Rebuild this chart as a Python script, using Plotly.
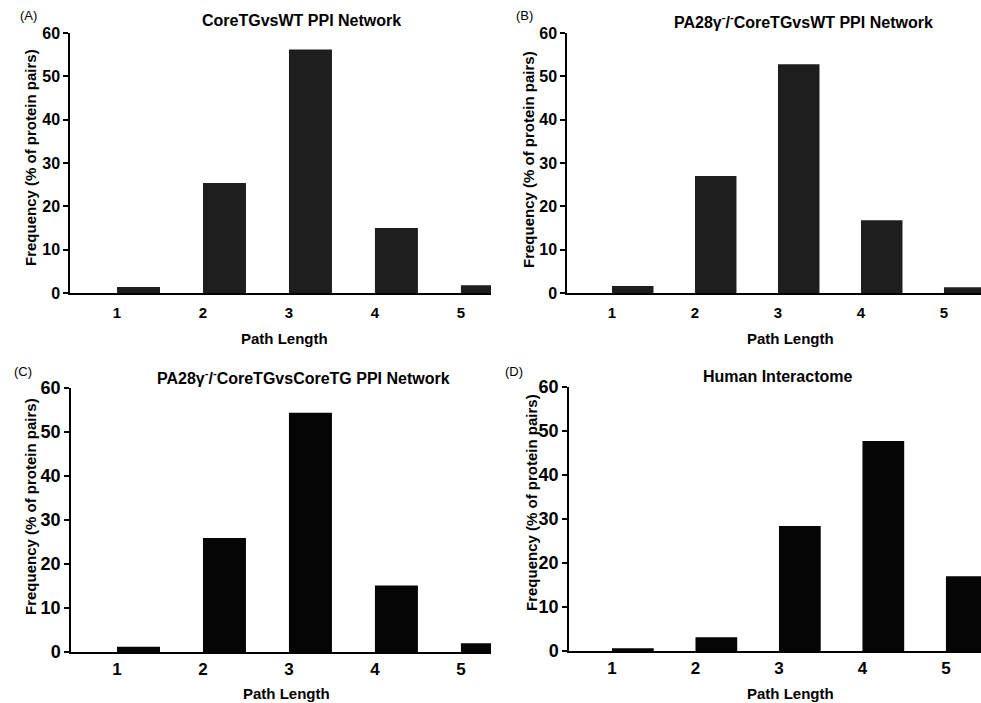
import plotly.graph_objects as go

W, H = 981, 703

path_lengths = [1, 2, 3, 4, 5]
freq_a = [1.4, 25.4, 56.2, 15.0, 1.8]
freq_b = [1.6, 27.0, 52.8, 16.8, 1.3]
freq_c = [1.2, 25.9, 54.4, 15.1, 2.0]
freq_d = [0.6, 3.1, 28.4, 47.7, 17.0]
y_ticks = [0, 10, 20, 30, 40, 50, 60]
titles = [
    "CoreTGvsWT PPI Network",
    "PA28γ<sup>-</sup>/<sup>-</sup>CoreTGvsWT PPI Network",
    "PA28γ<sup>-</sup>/<sup>-</sup>CoreTGvsCoreTG PPI Network",
    "Human Interactome",
]
panel_labels = ["(A)", "(B)", "(C)", "(D)"]
series = [freq_a, freq_b, freq_c, freq_d]

# panel geometry in pixels
panels = [
    dict(x0=70, x1=491, yt=33, yb=293, xr=[0.453, 5.35], tx=301, ty=20, lx=28, ly=16,
         color="#1e1e1e", tick=15, xlab_y=338, ytit_x=31, ytit_y=158, xtx=284, stand=5),
    dict(x0=567, x1=981, yt=33, yb=293, xr=[0.458, 5.446], tx=803, ty=21, lx=524, ly=16,
         color="#1e1e1e", tick=15, xlab_y=338, ytit_x=528, ytit_y=160, xtx=790, stand=5),
    dict(x0=71, x1=491, yt=388, yb=652, xr=[0.465, 5.35], tx=303, ty=377, lx=23, ly=371,
         color="#050505", tick=17, xlab_y=693, ytit_x=31, ytit_y=507, xtx=286, stand=1),
    dict(x0=569, x1=981, yt=387, yb=651, xr=[0.485, 5.42], tx=777, ty=377, lx=514, ly=371,
         color="#050505", tick=17, xlab_y=693, ytit_x=531, ytit_y=503, xtx=790, stand=1),
]

FONT = "Liberation Sans, Arial, sans-serif"

fig = go.Figure()
layout = dict(
    template="none",
    width=W, height=H, autosize=False,
    margin=dict(l=0, r=0, t=0, b=0, pad=0, autoexpand=False),
    paper_bgcolor="white", plot_bgcolor="white",
    showlegend=False,
    font=dict(family=FONT, color="black"),
    annotations=[],
)

for i, (p, vals) in enumerate(zip(panels, series)):
    n = i + 1
    xa = "x" if n == 1 else f"x{n}"
    ya = "y" if n == 1 else f"y{n}"
    fig.add_trace(go.Bar(
        x=path_lengths, y=vals, xaxis=xa, yaxis=ya,
        width=0.5, offset=0,
        marker=dict(color=p["color"], line=dict(width=0)),
    ))
    xkey = "xaxis" if n == 1 else f"xaxis{n}"
    ykey = "yaxis" if n == 1 else f"yaxis{n}"
    layout[xkey] = dict(
        domain=[p["x0"] / W, p["x1"] / W], anchor=ya, automargin=False,
        range=p["xr"], tickmode="array", tickvals=path_lengths,
        ticktext=[f"<b>{v}</b>" for v in path_lengths],
        showline=True, linecolor="black", linewidth=1.5,
        ticks="", showgrid=False, zeroline=False,
        tickfont=dict(size=p["tick"], family=FONT),
        ticklabelstandoff=p["stand"],
    )
    layout[ykey] = dict(
        domain=[1 - p["yb"] / H, 1 - p["yt"] / H], anchor=xa, automargin=False,
        range=[0, 60], tickmode="array", tickvals=y_ticks,
        ticktext=[f"<b>{v}</b>" for v in y_ticks],
        showline=True, linecolor="black", linewidth=1.5,
        ticks="outside", ticklen=5, tickwidth=1.5, tickcolor="black",
        showgrid=False, zeroline=False,
        tickfont=dict(size=p["tick"] + 1, family=FONT),
    )
    layout["annotations"].append(dict(
        text=f"<b>{titles[i]}</b>", x=p["tx"] / W, y=1 - p["ty"] / H,
        xref="paper", yref="paper", showarrow=False,
        xanchor="center", yanchor="middle", font=dict(size=16, family=FONT)))
    layout["annotations"].append(dict(
        text=panel_labels[i], x=p["lx"] / W, y=1 - p["ly"] / H,
        xref="paper", yref="paper", showarrow=False,
        xanchor="center", yanchor="middle", font=dict(size=13, family=FONT)))
    layout["annotations"].append(dict(
        text="<b>Path Length</b>", x=p["xtx"] / W, y=1 - p["xlab_y"] / H,
        xref="paper", yref="paper", showarrow=False,
        xanchor="center", yanchor="middle", font=dict(size=15, family=FONT)))
    layout["annotations"].append(dict(
        text="<b>Frequency (% of protein pairs)</b>", x=p["ytit_x"] / W,
        y=1 - p["ytit_y"] / H,
        xref="paper", yref="paper", showarrow=False, textangle=-90,
        xanchor="center", yanchor="middle", font=dict(size=15, family=FONT)))

fig.update_layout(**layout)
fig.write_html(
    "out.html",
    config={"displayModeBar": False},
    post_script="document.body.style.margin='0px';document.body.style.overflow='hidden';",
)
